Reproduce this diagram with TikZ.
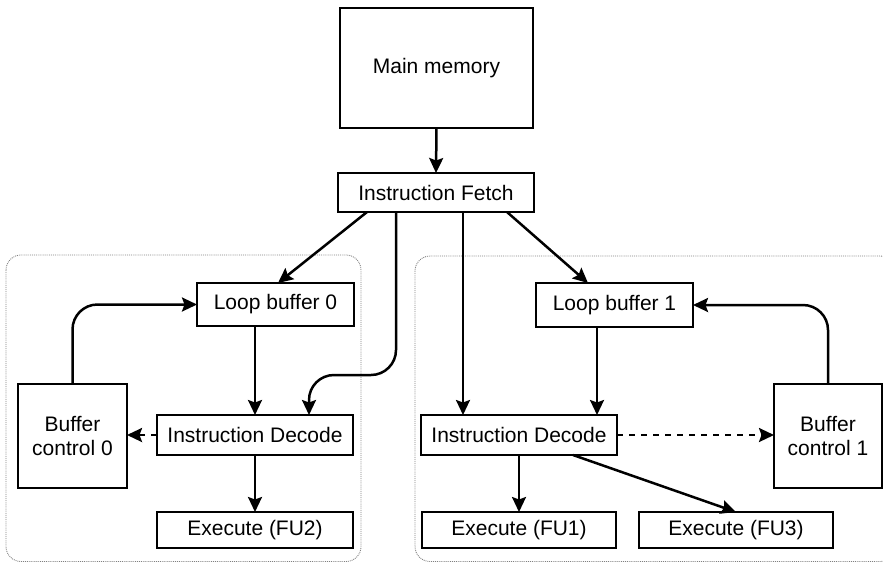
\documentclass[tikz,border=0pt]{standalone}
\usepackage{fontspec}
\setmainfont{Liberation Sans}
\usetikzlibrary{arrows.meta,calc}
\begin{document}
\begin{tikzpicture}[x=1pt,y=-1pt,
  box/.style={draw,line width=2.8pt,rectangle,inner sep=0pt,outer sep=0pt,
    align=center,font=\fontsize{21}{24}\selectfont},
  conn/.style={line width=2.5pt,-{Stealth[length=15pt,width=14pt,inset=2.5pt]}},
  ctrl/.style={conn,dash pattern=on 6pt off 6pt},
  group/.style={draw=gray,line width=0.9pt,densely dotted,rounded corners=15pt}]
\useasboundingbox (0,0) rectangle (883,563);
\clip (0,0) rectangle (883,563);

% dotted groupings around each pipeline half
\draw[group] (6,255) rectangle (361,561.5);
\draw[group] (415,256) rectangle (895,561.5);

% blocks
\node[box,minimum width=193pt,minimum height=120pt] (mm) at (436.5,68) {Main memory};
\node[box,minimum width=196pt,minimum height=39pt] (if) at (436,192.5) {Instruction Fetch};

\node[box,minimum width=157pt,minimum height=43pt] (lb0) at (275.5,304.5) {Loop buffer 0};
\node[box,minimum width=196pt,minimum height=40pt] (id0) at (255,435) {Instruction Decode};
\node[box,minimum width=109pt,minimum height=104pt] (bc0) at (72.5,436) {Buffer\\control 0};
\node[box,minimum width=196pt,minimum height=36pt] (fu2) at (255,530) {Execute (FU2)};

\node[box,minimum width=157pt,minimum height=44pt] (lb1) at (614.5,305) {Loop buffer 1};
\node[box,minimum width=196pt,minimum height=40pt] (id1) at (519,435) {Instruction Decode};
\node[box,minimum width=108pt,minimum height=104pt] (bc1) at (828,436) {Buffer\\control 1};
\node[box,minimum width=194pt,minimum height=36pt] (fu1) at (519,530) {Execute (FU1)};
\node[box,minimum width=194pt,minimum height=36pt] (fu3) at (736,530) {Execute (FU3)};

% fetch path
\draw[conn] (mm.south) -- (if.south |- if.north);
\draw[conn] (if.south -| 367,0) -- (lb0.north -| 278,0);
\draw[conn,rounded corners=25pt] (if.south -| 396,0) -- (396,375) -- (309,375) -- (id0.north -| 309,0);
\draw[conn] (if.south -| 463,0) -- (id1.north -| 463,0);
\draw[conn] (if.south -| 507,0) -- (lb1.north -| 588,0);

% left pipeline
\draw[conn] (lb0.south -| id0.north) -- (id0.north);
\draw[conn] (id0.south) -- (fu2.north);
\draw[ctrl] (id0.west) -- (bc0.east |- id0.west);
\draw[conn,rounded corners=25pt] (bc0.north) -- (bc0.north |- lb0.west) -- (lb0.west);

% right pipeline
\draw[conn] (lb1.south -| 597,0) -- (id1.north -| 597,0);
\draw[conn] (id1.south) -- (fu1.north);
\draw[conn] (id1.south -| 573,0) -- (fu3.north);
\draw[ctrl] (id1.east) -- (bc1.west |- id1.east);
\draw[conn,rounded corners=25pt] (bc1.north) -- (bc1.north |- lb1.east) -- (lb1.east);
\end{tikzpicture}
\end{document}
